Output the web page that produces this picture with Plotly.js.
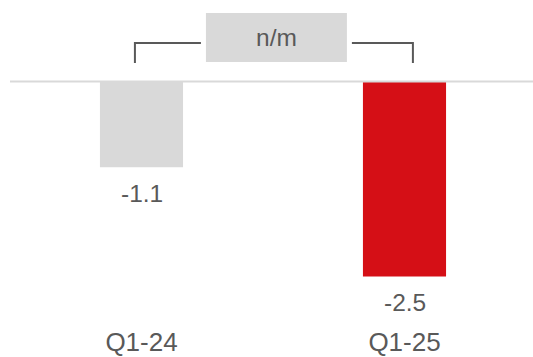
<!DOCTYPE html>
<html>
<head>
<meta charset="utf-8">
<script src="https://cdn.plot.ly/plotly-3.0.1.min.js"></script>
<style>html,body{margin:0;padding:0;background:#fff;}#chart{width:533px;height:357px;}</style>
</head>
<body>
<div id="chart"></div>
<script>
const categories = ["Q1-24", "Q1-25"];
const values = [-1.1, -2.5];
const valueLabels = ["-1.1", "-2.5"];
const barColors = ["#d9d9d9", "#d50f16"];
const changeLabel = "n/m";

const textColor = "#595959";
const fontFamily = "Liberation Sans, Arial, sans-serif";

const trace = {
  type: "bar",
  x: [0, 1],
  y: values,
  width: 0.316,
  marker: {color: barColors},
  hoverinfo: "skip"
};

const annotations = values.map((v, i) => ({
  x: i, y: v, xref: "x", yref: "y",
  text: valueLabels[i], showarrow: false,
  yanchor: "middle", yshift: -26,
  font: {family: fontFamily, size: 24.5, color: textColor}
}));
annotations.push({
  x: 0.513, y: 0.57, xref: "x", yref: "y",
  text: changeLabel, showarrow: false, yanchor: "middle",
  font: {family: fontFamily, size: 24.5, color: textColor}
});

const shapes = [
  {type: "line", xref: "x", yref: "y", x0: -0.5, x1: 1.6, y0: 0, y1: 0,
   line: {color: "#d9d9d9", width: 2}, layer: "above"},
  {type: "rect", xref: "x", yref: "y", x0: 0.245, x1: 0.781, y0: 0.25, y1: 0.878,
   fillcolor: "#d9d9d9", line: {width: 0}},
  {type: "path", xref: "x", yref: "y",
   path: "M -0.025 0.237 L -0.025 0.494 L 0.226 0.494",
   line: {color: textColor, width: 2}},
  {type: "path", xref: "x", yref: "y",
   path: "M 0.8 0.494 L 1.032 0.494 L 1.032 0.237",
   line: {color: textColor, width: 2}}
];

const layout = {
  width: 533, height: 357,
  margin: {l: 0, r: 0, t: 0, b: 33},
  paper_bgcolor: "#ffffff", plot_bgcolor: "#ffffff",
  showlegend: false,
  xaxis: {
    range: [-0.538, 1.4886],
    tickvals: [0, 1], ticktext: categories,
    showgrid: false, zeroline: false, showline: false, ticks: "",
    tickfont: {family: fontFamily, size: 26, color: textColor}
  },
  yaxis: {
    range: [-3.109, 1.045],
    showgrid: false, zeroline: false, showline: false,
    showticklabels: false, ticks: ""
  },
  annotations: annotations,
  shapes: shapes
};

Plotly.newPlot("chart", [trace], layout, {staticPlot: true, displayModeBar: false});
</script>
</body>
</html>
